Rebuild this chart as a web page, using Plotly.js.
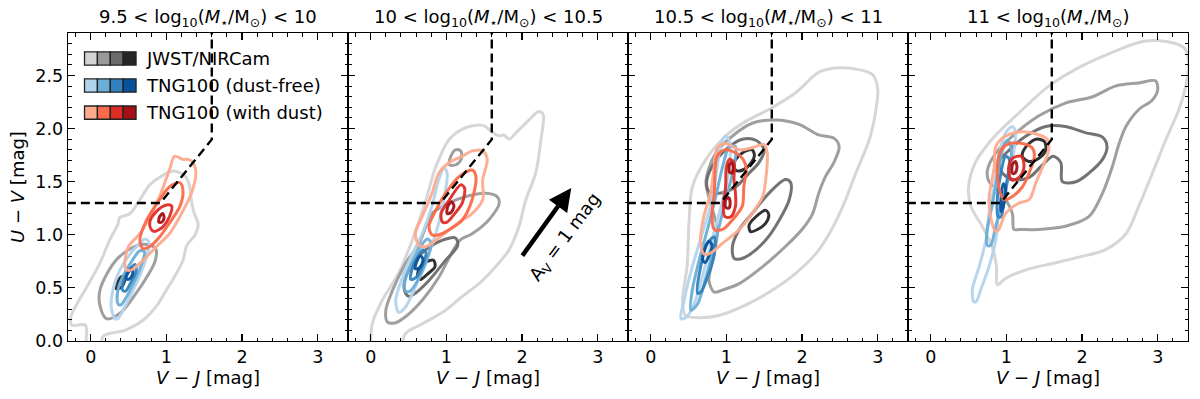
<!DOCTYPE html>
<html>
<head>
<meta charset="utf-8">
<script src="https://cdn.plot.ly/plotly-3.0.1.min.js"></script>
<style>html,body{margin:0;padding:0;background:#fff}#chart{width:1200px;height:399px}</style>
</head>
<body>
<div id="chart"></div>
<script>
// ---------------- data ----------------
const panelTitles = [
  '9.5 < log<sub>10</sub>(<i>M</i><sub>⋆</sub>/M<sub>⊙</sub>) < 10',
  '10 < log<sub>10</sub>(<i>M</i><sub>⋆</sub>/M<sub>⊙</sub>) < 10.5',
  '10.5 < log<sub>10</sub>(<i>M</i><sub>⋆</sub>/M<sub>⊙</sub>) < 11',
  '11 < log<sub>10</sub>(<i>M</i><sub>⋆</sub>/M<sub>⊙</sub>)'
];
const legendLabels = ['JWST/NIRCam', 'TNG100 (dust-free)', 'TNG100 (with dust)'];
const grayColors = ['#d4d4d4', '#9a9a9a', '#6b6b6b', '#262626'];
const blueColors = ['#b3d3ec', '#6baed6', '#3182bd', '#08519c'];
const redColors  = ['#fcab8f', '#fb6a4a', '#de2d26', '#a50f15'];
const xTicks = [0, 1, 2, 3];
const yTicks = [0, 0.5, 1.0, 1.5, 2.0, 2.5];
// UVJ quiescent selection boundary
const uvjX = [-0.5, 0.92, 1.6, 1.6];
const uvjY = [1.3, 1.3, 1.898, 3.1];
// A_V = 1 mag reddening vector (panel 2)
const avStart = [1.99, 0.79];
const avEnd = [2.65, 1.44];

// contours: [level, [x0,y0, x1,y1, ...]]
const p1Gray = [
  [0, [0.16,-0.3, 0.16,0.04, 0.45,0.10, 0.70,0.20, 0.87,0.33, 1.00,0.48, 1.12,0.62, 1.22,0.76, 1.27,0.90, 1.38,1.00, 1.42,1.10, 1.37,1.20, 1.33,1.32, 1.31,1.45, 1.25,1.55, 1.10,1.60, 0.93,1.55, 0.78,1.47, 0.65,1.33, 0.52,1.20, 0.38,1.16, 0.36,1.10, 0.25,0.95, 0.12,0.73, -0.05,0.51, -0.18,0.35, -0.26,0.23, -0.25,0.15, -0.07,0.15, -0.06,0.0, -0.06,-0.3]],
  [1, [0.21,0.21, 0.12,0.34, 0.12,0.47, 0.22,0.64, 0.36,0.78, 0.55,0.88, 0.72,0.91, 0.86,0.87, 0.85,0.75, 0.74,0.60, 0.57,0.42, 0.40,0.27]],
  [3, [0.34,0.49, 0.36,0.56, 0.42,0.61, 0.45,0.58, 0.41,0.51]]
];
const p1Blue = [
  [0, [0.32,0.21, 0.27,0.33, 0.30,0.50, 0.38,0.66, 0.50,0.80, 0.62,0.90, 0.72,0.96, 0.77,0.93, 0.74,0.80, 0.64,0.60, 0.52,0.42, 0.42,0.28, 0.36,0.21]],
  [1, [0.36,0.35, 0.36,0.48, 0.44,0.63, 0.55,0.76, 0.65,0.85, 0.71,0.84, 0.67,0.72, 0.57,0.55, 0.46,0.40, 0.40,0.34]],
  [2, [0.42,0.48, 0.44,0.58, 0.52,0.68, 0.59,0.72, 0.60,0.66, 0.53,0.55, 0.46,0.47]],
  [3, [0.47,0.59, 0.50,0.65, 0.55,0.68, 0.55,0.62, 0.50,0.58]]
];
const p1Red = [
  [0, [0.47,0.67, 0.45,0.73, 0.50,0.89, 0.65,1.01, 0.78,1.17, 0.91,1.36, 1.04,1.61, 1.11,1.74, 1.22,1.71, 1.29,1.71, 1.35,1.68, 1.39,1.58, 1.33,1.39, 1.20,1.20, 1.04,1.01, 0.87,0.89, 0.69,0.76, 0.54,0.67]],
  [1, [0.69,0.87, 0.65,0.95, 0.74,1.14, 0.91,1.33, 1.04,1.45, 1.18,1.49, 1.22,1.41, 1.18,1.27, 1.04,1.11, 0.91,0.98, 0.78,0.89]],
  [2, [0.80,1.05, 0.78,1.12, 0.87,1.22, 1.00,1.28, 1.07,1.27, 1.04,1.17, 0.96,1.08, 0.84,1.03]],
  [3, [0.90,1.12, 0.91,1.17, 0.95,1.20, 0.97,1.16, 0.94,1.12]]
];

const p2Gray = [
  [0, [0.00,-0.3, 0.00,0.01, 0.02,0.16, 0.15,0.38, 0.37,0.64, 0.55,0.95, 0.73,1.33, 0.86,1.64, 1.04,1.90, 1.26,2.01, 1.48,2.03, 1.62,1.96, 1.70,1.93, 1.76,1.94, 1.83,1.90, 1.92,1.96, 2.09,2.08, 2.22,2.16, 2.28,2.13, 2.25,1.90, 2.18,1.58, 2.05,1.33, 1.96,1.08, 1.83,0.86, 1.65,0.70, 1.43,0.54, 1.21,0.42, 0.99,0.29, 0.68,0.16, 0.46,0.07, 0.30,-0.3]],
  [1, [0.22,0.18, 0.20,0.29, 0.29,0.48, 0.46,0.73, 0.64,0.92, 0.73,1.08, 0.81,1.20, 1.04,1.30, 1.26,1.36, 1.52,1.39, 1.67,1.36, 1.70,1.30, 1.56,1.14, 1.34,1.01, 1.18,0.95, 1.05,0.80, 0.90,0.60, 0.70,0.40, 0.48,0.24, 0.32,0.17]],
  [1, [1.04,1.66, 1.06,1.74, 1.12,1.80, 1.19,1.79, 1.20,1.72, 1.13,1.66]],
  [2, [0.46,0.45, 0.44,0.53, 0.53,0.70, 0.73,0.86, 0.95,0.95, 1.12,0.97, 1.15,0.90, 0.99,0.76, 0.77,0.57, 0.59,0.45, 0.51,0.42]],
  [3, [0.62,0.60, 0.64,0.68, 0.72,0.74, 0.83,0.76, 0.85,0.70, 0.75,0.63, 0.66,0.58]]
];
const p2Blue = [
  [0, [0.37,0.27, 0.33,0.38, 0.42,0.60, 0.55,0.82, 0.68,1.01, 0.81,1.27, 0.90,1.52, 0.97,1.63, 1.01,1.58, 0.95,1.27, 0.86,1.01, 0.73,0.76, 0.59,0.51, 0.46,0.32]],
  [1, [0.46,0.47, 0.45,0.56, 0.53,0.72, 0.65,0.88, 0.75,0.96, 0.80,0.92, 0.74,0.76, 0.63,0.58, 0.52,0.47]],
  [2, [0.53,0.58, 0.54,0.66, 0.61,0.78, 0.69,0.86, 0.73,0.83, 0.69,0.72, 0.60,0.60]],
  [3, [0.59,0.68, 0.61,0.75, 0.66,0.80, 0.69,0.77, 0.65,0.69]]
];
const p2Red = [
  [0, [0.64,0.90, 0.59,1.01, 0.68,1.17, 0.81,1.39, 0.90,1.58, 1.04,1.68, 1.21,1.74, 1.34,1.79, 1.48,1.79, 1.54,1.71, 1.48,1.52, 1.48,1.33, 1.34,1.20, 1.21,1.14, 1.04,1.05, 0.86,0.95, 0.73,0.89]],
  [1, [0.81,1.00, 0.77,1.08, 0.86,1.23, 0.99,1.39, 1.17,1.55, 1.34,1.61, 1.39,1.55, 1.34,1.33, 1.21,1.14, 1.04,1.05, 0.90,1.00]],
  [2, [0.95,1.12, 0.93,1.20, 1.04,1.33, 1.19,1.47, 1.24,1.44, 1.21,1.30, 1.10,1.19, 1.01,1.12]],
  [3, [1.01,1.20, 1.02,1.27, 1.07,1.31, 1.10,1.27, 1.06,1.21]]
];

const p3Gray = [
  [0, [0.46,0.24, 0.42,0.38, 0.48,0.70, 0.51,1.17, 0.55,1.45, 0.73,1.71, 0.99,1.93, 1.26,2.07, 1.56,2.18, 1.92,2.34, 2.22,2.53, 2.44,2.57, 2.71,2.56, 2.93,2.51, 3.00,2.37, 2.97,2.15, 2.89,1.90, 2.71,1.58, 2.54,1.27, 2.36,1.01, 2.18,0.82, 1.92,0.64, 1.61,0.48, 1.26,0.34, 0.90,0.24, 0.64,0.22]],
  [1, [0.84,0.46, 0.77,0.57, 0.84,0.82, 0.88,1.05, 0.80,1.28, 0.73,1.50, 0.86,1.77, 1.08,1.93, 1.34,2.05, 1.65,2.08, 1.96,2.04, 2.22,1.94, 2.42,1.91, 2.49,1.83, 2.42,1.68, 2.31,1.55, 2.22,1.39, 2.14,1.20, 2.00,1.05, 1.78,0.89, 1.48,0.70, 1.17,0.54, 0.95,0.48]],
  [2, [1.10,0.78, 1.08,0.89, 1.17,1.05, 1.34,1.20, 1.56,1.39, 1.78,1.52, 1.85,1.49, 1.83,1.33, 1.70,1.14, 1.52,0.95, 1.30,0.81, 1.17,0.77]],
  [2, [0.77,1.41, 0.74,1.50, 0.81,1.64, 0.99,1.80, 1.21,1.90, 1.39,1.89, 1.50,1.80, 1.43,1.68, 1.30,1.58, 1.12,1.45, 0.90,1.39]],
  [3, [1.12,1.61, 1.10,1.68, 1.21,1.77, 1.34,1.80, 1.37,1.74, 1.28,1.64, 1.17,1.60]],
  [3, [1.32,1.03, 1.30,1.09, 1.39,1.17, 1.52,1.23, 1.56,1.19, 1.52,1.11, 1.41,1.05]]
];
const p3Blue = [
  [0, [0.40,0.21, 0.44,0.38, 0.55,0.70, 0.68,1.01, 0.81,1.33, 0.88,1.64, 0.93,1.86, 0.99,1.93, 1.04,1.88, 1.04,1.64, 0.95,1.33, 0.81,0.95, 0.68,0.60, 0.59,0.38, 0.48,0.23]],
  [1, [0.53,0.29, 0.55,0.48, 0.64,0.76, 0.75,1.05, 0.86,1.36, 0.95,1.64, 1.04,1.83, 1.12,1.83, 1.10,1.64, 0.99,1.33, 0.86,0.95, 0.73,0.60, 0.62,0.35]],
  [2, [0.62,0.45, 0.66,0.70, 0.75,0.92, 0.84,0.98, 0.84,0.82, 0.75,0.60, 0.66,0.46]],
  [3, [0.69,0.76, 0.71,0.86, 0.77,0.94, 0.81,0.90, 0.77,0.80, 0.72,0.74]]
];
const p3Red = [
  [0, [0.70,0.82, 0.66,0.95, 0.70,1.17, 0.79,1.39, 0.84,1.64, 0.88,1.82, 0.99,1.86, 1.17,1.80, 1.34,1.82, 1.50,1.85, 1.54,1.77, 1.52,1.52, 1.48,1.36, 1.34,1.20, 1.17,1.05, 0.95,0.92, 0.77,0.82]],
  [1, [0.84,1.05, 0.81,1.17, 0.84,1.39, 0.88,1.74, 0.99,1.80, 1.17,1.75, 1.26,1.64, 1.23,1.45, 1.21,1.27, 1.08,1.14, 0.95,1.05]],
  [2, [0.98,1.17, 0.96,1.27, 0.99,1.45, 1.00,1.64, 1.04,1.71, 1.10,1.68, 1.10,1.52, 1.12,1.39, 1.12,1.27, 1.06,1.17]],
  [3, [1.04,1.59, 1.04,1.66, 1.07,1.68, 1.09,1.63, 1.07,1.58]],
  [3, [0.99,1.26, 0.99,1.33, 1.03,1.35, 1.05,1.30, 1.03,1.25]]
];

const p4Gray = [
  [0, [0.88,0.53, 0.87,0.70, 0.81,0.89, 0.68,1.08, 0.53,1.27, 0.50,1.45, 0.59,1.68, 0.81,1.90, 1.17,2.15, 1.56,2.40, 2.00,2.59, 2.44,2.73, 2.80,2.82, 3.11,2.82, 3.35,2.76, 3.41,2.62, 3.37,2.40, 3.28,2.18, 3.11,1.90, 2.93,1.58, 2.75,1.27, 2.58,1.01, 2.31,0.86, 1.96,0.79, 1.61,0.73, 1.26,0.67, 0.99,0.59]],
  [1, [1.10,1.05, 1.08,1.20, 1.00,1.32, 0.86,1.44, 0.77,1.50, 0.75,1.61, 0.86,1.77, 1.08,1.93, 1.43,2.12, 1.78,2.24, 2.14,2.30, 2.44,2.40, 2.75,2.43, 2.97,2.45, 3.00,2.37, 2.93,2.27, 2.75,2.18, 2.58,2.02, 2.49,1.86, 2.40,1.64, 2.27,1.39, 2.09,1.17, 1.78,1.08, 1.43,1.05, 1.17,1.05]],
  [2, [0.95,1.58, 0.90,1.68, 1.04,1.80, 1.26,1.93, 1.52,2.02, 1.78,2.02, 2.05,1.96, 2.27,1.92, 2.33,1.83, 2.27,1.71, 2.09,1.58, 1.92,1.50, 1.74,1.50, 1.72,1.68, 1.62,1.74, 1.48,1.66, 1.30,1.54, 1.10,1.52]],
  [3, [1.21,1.74, 1.26,1.83, 1.39,1.90, 1.50,1.88, 1.52,1.80, 1.43,1.72, 1.30,1.69]]
];
const p4Blue = [
  [0, [0.57,0.37, 0.55,0.48, 0.64,0.70, 0.73,0.95, 0.77,1.20, 0.84,1.45, 0.90,1.74, 0.99,1.96, 1.08,2.02, 1.12,1.96, 1.08,1.71, 0.99,1.45, 0.90,1.20, 0.86,0.95, 0.77,0.70, 0.66,0.48, 0.60,0.37]],
  [1, [0.75,0.90, 0.74,1.01, 0.81,1.27, 0.88,1.55, 0.95,1.80, 1.01,1.89, 1.06,1.83, 1.04,1.58, 0.95,1.33, 0.86,1.08, 0.79,0.90]],
  [2, [0.89,1.17, 0.88,1.33, 0.92,1.55, 0.99,1.74, 1.04,1.71, 1.01,1.52, 0.97,1.33, 0.93,1.17]],
  [3, [0.93,1.22, 0.93,1.35, 0.96,1.48, 0.99,1.44, 0.97,1.30]]
];
const p4Red = [
  [0, [0.86,1.03, 0.81,1.11, 0.77,1.33, 0.84,1.64, 0.86,1.83, 0.99,1.93, 1.21,1.97, 1.43,1.94, 1.54,1.90, 1.56,1.80, 1.48,1.64, 1.39,1.49, 1.30,1.33, 1.17,1.30, 0.99,1.20, 0.90,1.05]],
  [1, [0.97,1.33, 0.90,1.45, 0.88,1.64, 0.93,1.80, 1.04,1.86, 1.21,1.86, 1.34,1.82, 1.37,1.74, 1.30,1.58, 1.21,1.45, 1.08,1.36]],
  [2, [1.06,1.52, 1.03,1.63, 1.08,1.72, 1.19,1.74, 1.23,1.68, 1.21,1.58, 1.12,1.52]],
  [3, [1.08,1.58, 1.08,1.66, 1.12,1.69, 1.14,1.63, 1.11,1.58]]
];

const panels = [
  [p1Gray, p1Blue, p1Red],
  [p2Gray, p2Blue, p2Red],
  [p3Gray, p3Blue, p3Red],
  [p4Gray, p4Blue, p4Red]
];

// ---------------- build ----------------
const groupColors = [grayColors, blueColors, redColors];
const FONT = 'DejaVu Sans, Verdana, sans-serif';
const FS = 18;
const traces = [];
function unpack(pts) {
  const xs = [], ys = [];
  for (let i = 0; i < pts.length; i += 2) { xs.push(pts[i]); ys.push(pts[i + 1]); }
  xs.push(pts[0]); ys.push(pts[1]);
  return [xs, ys];
}
panels.forEach((groups, p) => {
  const xa = 'x' + (p ? p + 1 : ''), ya = 'y' + (p ? p + 1 : '');
  groups.forEach((contours, g) => {
    contours.forEach(([lvl, pts]) => {
      const [xs, ys] = unpack(pts);
      traces.push({
        type: 'scatter', mode: 'lines', x: xs, y: ys, xaxis: xa, yaxis: ya,
        line: {color: groupColors[g][lvl], width: 3, shape: 'spline', smoothing: 0.9},
        opacity: 0.95, hoverinfo: 'skip', showlegend: false
      });
    });
  });
  traces.push({
    type: 'scatter', mode: 'lines', x: uvjX, y: uvjY, xaxis: xa, yaxis: ya,
    line: {color: '#000', width: 2.4, dash: '9px,5px'}, hoverinfo: 'skip', showlegend: false
  });
});

const L = 68, R = 11, T = 33, B = 58;
const plotW = 1200 - L - R;
const panelW = 280;
const layout = {
  width: 1200, height: 399,
  margin: {l: L, r: R, t: T, b: B},
  paper_bgcolor: '#fff', plot_bgcolor: '#fff',
  font: {family: FONT, size: FS, color: '#000'},
  showlegend: false,
  annotations: [], shapes: []
};
for (let p = 0; p < 4; p++) {
  const sfx = p ? String(p + 1) : '';
  const d0 = (panelW * p) / plotW, d1 = Math.min(1, (panelW * (p + 1)) / plotW);
  layout['xaxis' + sfx] = {
    domain: [d0, d1], range: [-0.3, 3.4], anchor: 'y' + sfx,
    tickvals: xTicks, ticktext: xTicks.map(String),
    ticks: 'inside', ticklen: 7, tickwidth: 1.2, tickcolor: '#000',
    minor: {dtick: 0.2, tick0: 0, ticks: 'inside', ticklen: 3.5, tickwidth: 1, tickcolor: '#000'},
    showline: true, linecolor: '#000', linewidth: 1.3, mirror: 'allticks',
    showgrid: false, zeroline: false,
    tickfont: {family: FONT, size: 17.5},
    title: {text: '<i>V</i> − <i>J</i> [mag]', font: {family: FONT, size: FS}, standoff: 4}
  };
  layout['yaxis' + sfx] = {
    domain: [0, 1], range: [0, 2.9], anchor: 'x' + sfx,
    tickvals: yTicks, ticktext: yTicks.map(v => v.toFixed(1)),
    showticklabels: p === 0,
    ticks: 'inside', ticklen: 7, tickwidth: 1.2, tickcolor: '#000',
    minor: {dtick: 0.1, tick0: 0, ticks: 'inside', ticklen: 3.5, tickwidth: 1, tickcolor: '#000'},
    showline: true, linecolor: '#000', linewidth: 1.3, mirror: 'allticks',
    showgrid: false, zeroline: false,
    tickfont: {family: FONT, size: 17.5},
    title: p === 0 ? {text: '<i>U</i> − <i>V</i> [mag]', font: {family: FONT, size: FS}, standoff: 6} : {text: ''}
  };
  layout.annotations.push({
    xref: 'x' + sfx + ' domain', yref: 'paper', x: 0.5, y: 1, yanchor: 'bottom', yshift: 1,
    text: panelTitles[p], showarrow: false, font: {family: FONT, size: FS}
  });
}

// legend (custom patches in panel 1)
const legendGroups = [grayColors, blueColors, redColors];
const rowTop = [0.939, 0.851, 0.763];
const sqW = 0.046, sqH = 0.043, x0 = 0.059;
legendGroups.forEach((cols, r) => {
  cols.forEach((c, i) => {
    layout.shapes.push({
      type: 'rect', xref: 'x domain', yref: 'y domain',
      x0: x0 + i * sqW, x1: x0 + (i + 1) * sqW, y0: rowTop[r] - sqH, y1: rowTop[r],
      fillcolor: c, line: {color: '#222', width: 1.3}
    });
  });
  layout.annotations.push({
    xref: 'x domain', yref: 'y domain', x: x0 + 4 * sqW + 0.03, y: rowTop[r] - sqH / 2,
    xanchor: 'left', yanchor: 'middle', text: legendLabels[r], showarrow: false,
    font: {family: FONT, size: FS}
  });
});

// reddening arrow
layout.annotations.push({
  xref: 'x2', yref: 'y2', axref: 'x2', ayref: 'y2',
  x: avEnd[0], y: avEnd[1], ax: avStart[0], ay: avStart[1],
  showarrow: true, arrowhead: 2, arrowsize: 1, arrowwidth: 4.5, arrowcolor: '#000', text: ''
});
layout.annotations.push({
  xref: 'x2', yref: 'y2', x: 2.58, y: 0.98, text: 'A<sub>V</sub> = 1 mag', textangle: -53,
  showarrow: false, font: {family: FONT, size: FS}
});

Plotly.newPlot('chart', traces, layout, {displayModeBar: false, staticPlot: true});
</script>
</body>
</html>
